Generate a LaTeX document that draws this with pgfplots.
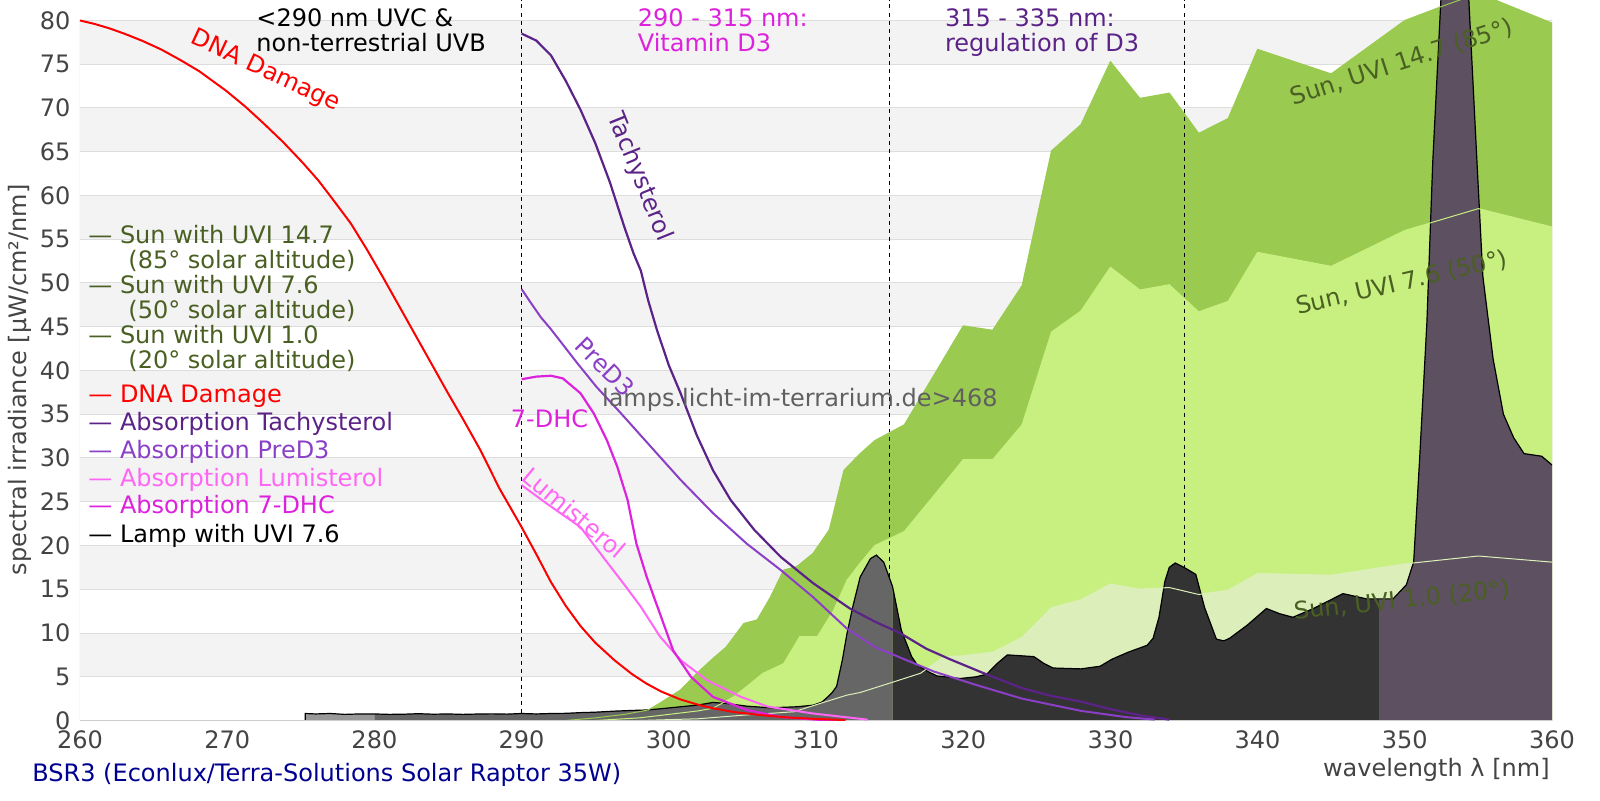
\documentclass[border=0pt]{standalone}
\usepackage{fontspec}
\setmainfont{DejaVu Sans}
\usepackage{pgfplots}
\pgfplotsset{compat=1.18}
\definecolor{band}{HTML}{F3F3F3}
\definecolor{gridc}{HTML}{DDDDDD}
\definecolor{framec}{HTML}{CCCCCC}
\definecolor{sunA}{HTML}{9ACA50}
\definecolor{sunB}{HTML}{C8F080}
\definecolor{sunC}{HTML}{DCEFBA}
\definecolor{lampA}{HTML}{999999}
\definecolor{lampB}{HTML}{666666}
\definecolor{lampC}{HTML}{333333}
\definecolor{lampD}{HTML}{5D5060}
\definecolor{tachy}{HTML}{5B2288}
\definecolor{pred}{HTML}{8A3FC6}
\definecolor{lumi}{HTML}{FF66F5}
\definecolor{dhc}{HTML}{DD22DD}
\definecolor{suntext}{HTML}{4A6023}
\definecolor{ticktext}{HTML}{444444}
\definecolor{navyt}{HTML}{000090}
\definecolor{urltext}{HTML}{606060}
\newcommand{\f}{\fontsize{12}{14}\selectfont}
\begin{document}
\begin{tikzpicture}
\path[use as bounding box] (-40pt,-39.75pt) rectangle (760pt,360.25pt);
\begin{axis}[
  scale only axis, width=736pt, height=360.25pt,
  xmin=260, xmax=360, ymin=0, ymax=82.34,
  axis line style={draw=none},
  major tick length=0pt, tick style={draw=none},
  xtick={260,270,...,360}, ytick={0,5,...,80},
  /pgf/number format/assume math mode=true,
  ticklabel style={font=\f, text=ticktext},
  xticklabel style={anchor=north, inner sep=0pt, yshift=-4.75pt},
  yticklabel style={anchor=east, inner sep=0pt, xshift=-4.6pt},
  no markers, clip=true,
]
% background bands
\fill[band] (axis cs:260,5) rectangle (axis cs:360,10);
\fill[band] (axis cs:260,15) rectangle (axis cs:360,20);
\fill[band] (axis cs:260,25) rectangle (axis cs:360,30);
\fill[band] (axis cs:260,35) rectangle (axis cs:360,40);
\fill[band] (axis cs:260,45) rectangle (axis cs:360,50);
\fill[band] (axis cs:260,55) rectangle (axis cs:360,60);
\fill[band] (axis cs:260,65) rectangle (axis cs:360,70);
\fill[band] (axis cs:260,75) rectangle (axis cs:360,80);
\pgfplotsinvokeforeach{5,10,15,20,25,30,35,40,45,50,55,60,65,70,75,80}{
  \draw[gridc, line width=0.5pt] (axis cs:260,#1) -- (axis cs:360,#1);
}
% sun areas
\addplot[fill=sunA, draw=none] coordinates {(293,0)(295,0.3)(297,0.7)(298.6,1.2)(299.4,2.0)(300.8,3.5)(301.9,5.4)(303.0,7.1)(303.9,8.4)(305.1,11.1)(306.0,11.5)(306.9,14.1)(307.8,17.2)(308.7,17.6)(309.8,19.1)(310.9,21.8)(311.9,28.6)(313.0,30.5)(314.0,32.0)(316.0,33.8)(320.0,45.1)(322.0,44.6)(324.0,49.7)(326.0,65.1)(328.0,68.1)(330.0,75.3)(332.0,71.1)(334.0,71.7)(336.0,67.1)(338.0,68.8)(340.0,76.7)(345.0,73.9)(350.0,80.0)(352.5,81.6)(354.5,82.8)(356.2,82.3)(360.0,79.7)} \closedcycle;
\addplot[fill=sunB, draw=none] coordinates {(295,0)(298,0.3)(300,0.7)(302,1.1)(303,1.4)(304.4,2.7)(305.3,3.9)(306.4,5.4)(307.8,6.5)(308.9,9.6)(310.1,9.6)(311.2,12.6)(312.1,16.0)(313.0,18.0)(314.0,20.0)(316.0,21.6)(320.0,29.8)(322.0,29.8)(324.0,33.8)(326.0,44.4)(328.0,46.8)(330.0,51.8)(332.0,49.2)(334.0,49.8)(336.0,46.7)(338.0,47.9)(340.0,53.5)(345.0,51.9)(350.0,56.0)(355.0,58.5)(360.0,56.4)} \closedcycle;
\addplot[fill=sunC, draw=none] coordinates {(298,0)(302,0.2)(305,0.6)(308.5,1.0)(310,1.8)(312.1,2.9)(313,3.2)(315.25,4.4)(317.1,5.4)(318.7,7.3)(320.0,7.4)(322.0,7.8)(324.0,9.5)(326.0,12.9)(328.0,13.8)(330.0,15.6)(332.0,15.0)(334.0,15.2)(336.0,14.4)(338.0,14.9)(340.0,16.8)(345.0,16.6)(350.0,17.9)(355.0,18.8)(360.0,18.1)} \closedcycle;
% region lines
\draw[black, line width=0.5pt, dash pattern=on 2pt off 2pt] (axis cs:290,0) -- (axis cs:290,82.34);
\draw[black, line width=0.5pt, dash pattern=on 2pt off 2pt] (axis cs:315,0) -- (axis cs:315,82.34);
\draw[black, line width=0.5pt, dash pattern=on 2pt off 2pt] (axis cs:335,0) -- (axis cs:335,82.34);
% lamp bands
\addplot[fill=lampA, draw=none] coordinates {(275.3,0.8)(276,0.75)(277,0.8)(278,0.7)(279,0.75)(280,0.75)} \closedcycle;
\addplot[fill=lampB, draw=none] coordinates {(280,0.75)(281,0.7)(282,0.72)(283,0.78)(284,0.72)(285,0.75)(286,0.7)(287,0.74)(288,0.76)(289,0.73)(290,0.8)(291,0.75)(292,0.8)(293,0.82)(294,0.9)(295,0.95)(296.3,1.07)(297.5,1.15)(298.5,1.2)(299.5,1.35)(300.8,1.57)(301.9,1.75)(303.0,2.06)(303.9,1.95)(305.3,1.64)(306.9,1.45)(308.7,1.57)(309.8,1.75)(310.4,2.1)(310.8,2.7)(311.1,3.2)(311.4,3.9)(311.8,7.0)(312.1,9.9)(312.5,13.0)(313.0,16.4)(313.7,18.5)(314.1,18.9)(314.6,18.1)(315.2,15.3)} \closedcycle;
\addplot[fill=lampC, draw=none] coordinates {(315.2,15.3)(315.8,10.3)(316.5,7.3)(316.9,6.3)(317.6,5.6)(318.2,5.1)(319.8,4.8)(320.9,5.0)(321.6,5.3)(322.3,6.5)(323.0,7.5)(324.8,7.3)(325.5,6.5)(326.1,6.0)(328.0,5.9)(329.3,6.2)(330.1,7.0)(331.2,7.8)(332.5,8.6)(332.9,9.4)(333.3,11.8)(333.7,15.9)(334.0,17.5)(334.4,18.0)(335.0,17.5)(335.8,16.7)(336.4,12.9)(337.2,9.3)(337.7,9.1)(338.1,9.4)(339.3,10.9)(340.6,12.8)(341.5,12.2)(342.4,11.8)(343.8,12.8)(345.8,14.5)(347.4,13.9)(348.25,13.9)} \closedcycle;
\addplot[fill=lampD, draw=none] coordinates {(348.25,13.9)(349.2,13.9)(350.1,15.5)(350.6,18.1)(351.0,29.7)(351.5,45.5)(351.9,63.9)(352.5,84)(353.4,92)(354.3,84)(354.9,63.9)(355.3,50.8)(356.0,41.3)(356.7,35.0)(357.4,32.3)(358.1,30.5)(359.3,30.2)(360,29.2)} \closedcycle;
% lamp outline
\addplot[black, line width=0.6pt] coordinates {(275.3,0)(275.3,0.8)(276,0.75)(277,0.8)(278,0.7)(279,0.75)(280,0.75)(281,0.7)(282,0.72)(283,0.78)(284,0.72)(285,0.75)(286,0.7)(287,0.74)(288,0.76)(289,0.73)(290,0.8)(291,0.75)(292,0.8)(293,0.82)(294,0.9)(295,0.95)(296.3,1.07)(297.5,1.15)(298.5,1.2)(299.5,1.35)(300.8,1.57)(301.9,1.75)(303.0,2.06)(303.9,1.95)(305.3,1.64)(306.9,1.45)(308.7,1.57)(309.8,1.75)(310.4,2.1)(310.8,2.7)(311.1,3.2)(311.4,3.9)(311.8,7.0)(312.1,9.9)(312.5,13.0)(313.0,16.4)(313.7,18.5)(314.1,18.9)(314.6,18.1)(315.2,15.3)(315.8,10.3)(316.5,7.3)(316.9,6.3)(317.6,5.6)(318.2,5.1)(319.8,4.8)(320.9,5.0)(321.6,5.3)(322.3,6.5)(323.0,7.5)(324.8,7.3)(325.5,6.5)(326.1,6.0)(328.0,5.9)(329.3,6.2)(330.1,7.0)(331.2,7.8)(332.5,8.6)(332.9,9.4)(333.3,11.8)(333.7,15.9)(334.0,17.5)(334.4,18.0)(335.0,17.5)(335.8,16.7)(336.4,12.9)(337.2,9.3)(337.7,9.1)(338.1,9.4)(339.3,10.9)(340.6,12.8)(341.5,12.2)(342.4,11.8)(343.8,12.8)(345.8,14.5)(347.4,13.9)(348.25,13.9)(349.2,13.9)(350.1,15.5)(350.6,18.1)(351.0,29.7)(351.5,45.5)(351.9,63.9)(352.5,84)(353.4,92)(354.3,84)(354.9,63.9)(355.3,50.8)(356.0,41.3)(356.7,35.0)(357.4,32.3)(358.1,30.5)(359.3,30.2)(360,29.2)};
% sun curves over lamp
\addplot[sunA, line width=0.5pt] coordinates {(293,0)(295,0.3)(297,0.7)(298.6,1.2)(299.4,2.0)(300.8,3.5)(301.9,5.4)(303.0,7.1)(303.9,8.4)(305.1,11.1)(306.0,11.5)(306.9,14.1)(307.8,17.2)(308.7,17.6)(309.8,19.1)(310.9,21.8)(311.9,28.6)(313.0,30.5)(314.0,32.0)(316.0,33.8)(320.0,45.1)(322.0,44.6)(324.0,49.7)(326.0,65.1)(328.0,68.1)(330.0,75.3)(332.0,71.1)(334.0,71.7)(336.0,67.1)(338.0,68.8)(340.0,76.7)(345.0,73.9)(350.0,80.0)(352.5,81.6)(354.5,82.8)(356.2,82.3)(360.0,79.7)};
\addplot[sunB, line width=0.5pt] coordinates {(295,0)(298,0.3)(300,0.7)(302,1.1)(303,1.4)(304.4,2.7)(305.3,3.9)(306.4,5.4)(307.8,6.5)(308.9,9.6)(310.1,9.6)(311.2,12.6)(312.1,16.0)(313.0,18.0)(314.0,20.0)(316.0,21.6)(320.0,29.8)(322.0,29.8)(324.0,33.8)(326.0,44.4)(328.0,46.8)(330.0,51.8)(332.0,49.2)(334.0,49.8)(336.0,46.7)(338.0,47.9)(340.0,53.5)(345.0,51.9)(350.0,56.0)(355.0,58.5)(360.0,56.4)};
\addplot[sunC, line width=0.5pt] coordinates {(298,0)(302,0.2)(305,0.6)(308.5,1.0)(310,1.8)(312.1,2.9)(313,3.2)(315.25,4.4)(317.1,5.4)(318.7,7.3)(320.0,7.4)(322.0,7.8)(324.0,9.5)(326.0,12.9)(328.0,13.8)(330.0,15.6)(332.0,15.0)(334.0,15.2)(336.0,14.4)(338.0,14.9)(340.0,16.8)(345.0,16.6)(350.0,17.9)(355.0,18.8)(360.0,18.1)};
% frame
\draw[framec, line width=0.5pt] (axis cs:260,0) -- (axis cs:360,0);
\draw[framec, line width=0.5pt] (axis cs:260,0) -- (axis cs:260,80);
\draw[framec, line width=0.5pt] (axis cs:360,0) -- (axis cs:360,80);
% absorption curves
\addplot[tachy, line width=1.1pt] coordinates {(290,78.5)(291,77.7)(292,76.0)(293,73.1)(294,69.8)(295,66.0)(296,61.5)(297,56.3)(297.6,53.4)(298.1,51.4)(298.6,48.0)(299.2,44.6)(300,40.6)(300.8,37.4)(301.9,32.6)(303.0,28.6)(304.2,25.2)(305.8,21.8)(307.6,18.7)(309.8,15.7)(312.3,12.8)(314.0,11.3)(315.7,10.0)(317.5,8.2)(319.1,7.0)(321.4,5.4)(324.0,3.7)(326,2.8)(327.9,2.2)(330,1.3)(332,0.6)(334,0.1)};
\addplot[pred, line width=1pt] coordinates {(290,49.3)(290.6,47.8)(291.3,46.1)(292.0,44.7)(292.6,43.4)(293.8,40.8)(295.1,38.1)(296.7,35.2)(298.4,32.0)(299.2,30.5)(300.8,27.5)(303.0,23.7)(305.3,20.2)(307.6,17.2)(309.8,14.1)(312.1,10.5)(314,8.4)(316,7.0)(318,5.6)(321,4.0)(324,2.5)(328,1.1)(331,0.4)(333,0.1)};
\addplot[lumi, line width=1pt] coordinates {(290,26.9)(291.7,24.8)(294.0,22.1)(295.8,18.1)(296.9,15.7)(298.1,13.0)(299.4,9.6)(300.8,6.9)(302.6,4.6)(304.9,2.7)(306.7,1.6)(309.8,0.8)(313.5,0.1)};
\addplot[dhc, line width=1.1pt] coordinates {(290,39.0)(291.0,39.3)(292.0,39.4)(292.8,39.1)(294.0,37.4)(294.9,35.1)(295.8,32.0)(296.5,29.0)(297.2,25.2)(297.8,20.2)(298.5,16.4)(299.4,12.2)(300.3,8.0)(301.5,5.0)(303.0,2.7)(305.3,1.2)(307.6,0.4)(310,0.1)(312,0)};
\addplot[red, line width=1pt] coordinates {(260,80.0)(261,79.6)(262,79.1)(263,78.5)(264.2,77.7)(265.5,76.7)(266.8,75.5)(268.1,74.2)(269.9,72.0)(271.2,70.2)(272.5,68.2)(273.8,66.1)(275.1,63.8)(276.2,61.7)(277.2,59.5)(278.4,56.8)(279.5,53.8)(280.6,50.6)(281.7,47.3)(283,43.4)(284,40.4)(285,37.4)(286,34.5)(287.2,30.9)(288.5,26.5)(290,22.1)(291,19.0)(292,15.8)(293,13.1)(294,10.8)(295,8.9)(296.3,6.9)(297.5,5.3)(298.5,4.2)(299.5,3.3)(300.8,2.4)(302,1.8)(303,1.4)(304.5,0.95)(306.4,0.6)(308,0.35)(309.8,0.2)(312,0.05)};
% in-plot labels
\node[font=\f, text=red, rotate=-25] at (axis cs:272.6,74.2) {DNA Damage};
\node[font=\f, text=tachy, rotate=-68] at (axis cs:298.0,62.1) {Tachysterol};
\node[font=\f, text=pred, rotate=-45] at (axis cs:295.7,40.4) {PreD3};
\node[font=\f, text=dhc] at (axis cs:291.9,34.5) {7-DHC};
\node[font=\f, text=lumi, rotate=-40] at (axis cs:293.6,23.75) {Lumisterol};
\node[font=\f, text=urltext, anchor=base west, inner sep=0pt] at (axis cs:295.44,35.86) {lamps.licht-im-terrarium.de>468};
\node[font=\f, text=suntext, rotate=18] at (axis cs:349.8,75.2) {Sun, UVI 14.7 (85°)};
\node[font=\f, text=suntext, rotate=13] at (axis cs:349.8,50.0) {Sun, UVI 7.6 (50°)};
\node[font=\f, text=suntext, rotate=6] at (axis cs:349.8,13.7) {Sun, UVI 1.0 (20°)};
\end{axis}
% top labels
\node[font=\f, anchor=base west, inner sep=0pt] at (88pt,346.9pt) {<290 nm UVC \&};
\node[font=\f, anchor=base west, inner sep=0pt] at (88pt,334.4pt) {non-terrestrial UVB};
\node[font=\f, text=dhc, anchor=base west, inner sep=0pt] at (278.75pt,346.9pt) {290 - 315 nm:};
\node[font=\f, text=dhc, anchor=base west, inner sep=0pt] at (278.75pt,334.4pt) {Vitamin D3};
\node[font=\f, text=tachy, anchor=base west, inner sep=0pt] at (432.3pt,346.9pt) {315 - 335 nm:};
\node[font=\f, text=tachy, anchor=base west, inner sep=0pt] at (432.3pt,334.4pt) {regulation of D3};
% legend
\node[font=\f, text=suntext, anchor=base west, inner sep=0pt] at (4pt,238.4pt) {— Sun with UVI 14.7};
\node[font=\f, text=suntext, anchor=base west, inner sep=0pt] at (24pt,225.9pt) {(85° solar altitude)};
\node[font=\f, text=suntext, anchor=base west, inner sep=0pt] at (4pt,213.4pt) {— Sun with UVI 7.6};
\node[font=\f, text=suntext, anchor=base west, inner sep=0pt] at (24pt,200.9pt) {(50° solar altitude)};
\node[font=\f, text=suntext, anchor=base west, inner sep=0pt] at (4pt,188.4pt) {— Sun with UVI 1.0};
\node[font=\f, text=suntext, anchor=base west, inner sep=0pt] at (24pt,175.9pt) {(20° solar altitude)};
\node[font=\f, text=red, anchor=base west, inner sep=0pt] at (4pt,159.25pt) {— DNA Damage};
\node[font=\f, text=tachy, anchor=base west, inner sep=0pt] at (4pt,145.05pt) {— Absorption Tachysterol};
\node[font=\f, text=pred, anchor=base west, inner sep=0pt] at (4pt,131.25pt) {— Absorption PreD3};
\node[font=\f, text=lumi, anchor=base west, inner sep=0pt] at (4pt,117.05pt) {— Absorption Lumisterol};
\node[font=\f, text=dhc, anchor=base west, inner sep=0pt] at (4pt,103.4pt) {— Absorption 7-DHC};
\node[font=\f, text=black, anchor=base west, inner sep=0pt] at (4pt,89.25pt) {— Lamp with UVI 7.6};
% axis labels
\node[font=\f, text=ticktext, rotate=90] at (-30pt,170.25pt) {spectral irradiance [µW/cm²/nm]};
\node[font=\f, text=ticktext, anchor=east, inner sep=0pt] at (735pt,-24.75pt) {wavelength λ [nm]};
\node[font=\f, text=navyt, anchor=west, inner sep=0pt] at (-24pt,-27.25pt) {BSR3 (Econlux/Terra-Solutions Solar Raptor 35W)};
\end{tikzpicture}
\end{document}
